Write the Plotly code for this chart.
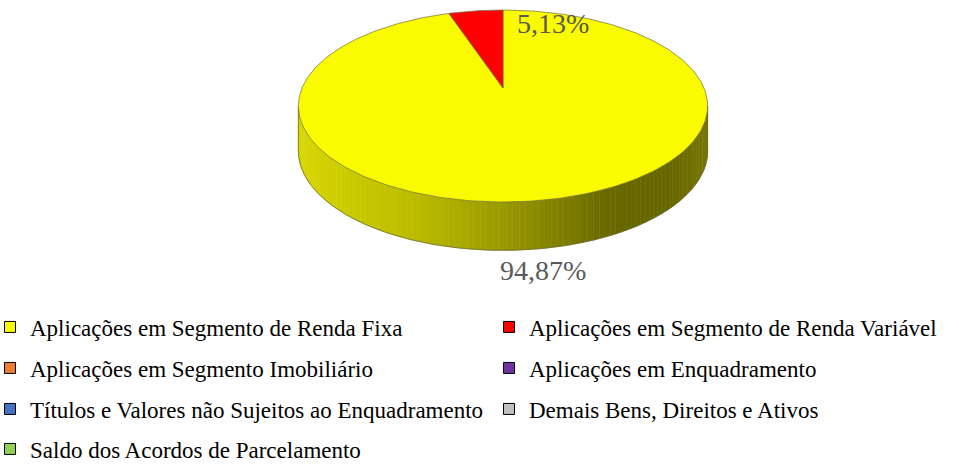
import math
import plotly.graph_objects as go

# ---------------- data ----------------
categories = [
    "Aplicações em Segmento de Renda Fixa",
    "Aplicações em Segmento de Renda Variável",
    "Aplicações em Segmento Imobiliário",
    "Aplicações em Enquadramento",
    "Títulos e Valores não Sujeitos ao Enquadramento",
    "Demais Bens, Direitos e Ativos",
    "Saldo dos Acordos de Parcelamento",
]
values = [94.87, 5.13, 0, 0, 0, 0, 0]
colors = ["#FAFA00", "#FF0000", "#ED7D31", "#7030A0", "#4472C4", "#BFBFBF", "#92D050"]

# ---------------- geometry / style ----------------
W, H = 959, 464
CX, CY = 503.0, 88.0      # pie apex (screen px)
RX, RY = 201.0, 92.6      # disk radii
P = 0.1876                # perspective factor
H0 = 44.0                 # side thickness
EDGE = "#6E6E3A"
LABEL_COLOR = "#595959"
FONT = "Liberation Serif, Times New Roman, serif"

label_pos = {0: (543, 270), 1: (553, 23)}
legend_rows = [327, 368, 409, 449]
legend_cols = [30, 529]


def proj(theta_deg, r=1.0):
    t = math.radians(theta_deg)
    u = math.sin(t) * r
    v = math.cos(t) * r
    k = 1.0 / (1.0 + P * v)
    return CX + RX * u * k, CY - RY * v * k, v, k


def thick(v, k):
    return H0 * k ** 0.45


def hex_to_rgb(h):
    h = h.lstrip("#")
    return tuple(int(h[i:i + 2], 16) for i in (0, 2, 4))


shade_stops = [(0.0, 0.86), (0.3, 0.74), (0.55, 0.58), (0.75, 0.42), (0.9, 0.41), (1.0, 0.47)]


def shade(frac):
    frac = min(max(frac, 0.0), 1.0)
    for (a, sa), (b, sb) in zip(shade_stops[:-1], shade_stops[1:]):
        if a <= frac <= b:
            return sa + (sb - sa) * (frac - a) / (b - a)
    return shade_stops[-1][1]


fig = go.Figure()

total = sum(values)
starts, ends = [], []
acc = 0.0
for v in values:
    starts.append(acc / total * 360.0)
    acc += v
    ends.append(acc / total * 360.0)

# visible side range
th_a = math.degrees(math.acos(-P))
th_b = 360.0 - th_a
xmin = proj(th_b)[0]
xmax = proj(th_a)[0]

# ---- side strips ----
for i, v in enumerate(values):
    if v <= 0:
        continue
    a = max(starts[i], th_a)
    b = min(ends[i], th_b)
    if b <= a:
        continue
    n = max(2, int((b - a) / 1.5))
    base = hex_to_rgb(colors[i])
    for j in range(n):
        t0 = a + (b - a) * j / n
        t1 = a + (b - a) * (j + 1) / n
        x0, y0, v0, k0 = proj(t0)
        x1, y1, v1, k1 = proj(t1)
        xs = [x0, x1, x1, x0, x0]
        ys = [y0, y1, y1 + thick(v1, k1), y0 + thick(v0, k0), y0]
        s = shade(((x0 + x1) / 2 - xmin) / (xmax - xmin))
        c = "rgb(%d,%d,%d)" % tuple(int(round(ch * s)) for ch in base)
        fig.add_trace(go.Scatter(x=xs, y=ys, mode="lines", fill="toself",
                                 fillcolor=c, line=dict(color=c, width=0.6),
                                 hoverinfo="skip", showlegend=False))

# side outline (bottom rim + vertical edges)
bx, by = [], []
xa, ya, va, ka = proj(th_a)
bx.append(xa); by.append(ya)
steps = 200
for j in range(steps + 1):
    t = th_a + (th_b - th_a) * j / steps
    x, y, vv, kk = proj(t)
    bx.append(x); by.append(y + thick(vv, kk))
xb, yb, vb, kb = proj(th_b)
bx.append(xb); by.append(yb)
fig.add_trace(go.Scatter(x=bx, y=by, mode="lines", line=dict(color=EDGE, width=0.8),
                         hoverinfo="skip", showlegend=False))

# ---- top face slices ----
for i, v in enumerate(values):
    if v <= 0:
        continue
    n = max(4, int((ends[i] - starts[i]) / 1.0))
    xs, ys = [CX], [CY]
    for j in range(n + 1):
        t = starts[i] + (ends[i] - starts[i]) * j / n
        x, y, _, _ = proj(t)
        xs.append(x); ys.append(y)
    xs.append(CX); ys.append(CY)
    fig.add_trace(go.Scatter(x=xs, y=ys, mode="lines", fill="toself",
                             fillcolor=colors[i], line=dict(color=EDGE, width=0.7),
                             hoverinfo="skip", showlegend=False))

# ---- data labels ----
for i, v in enumerate(values):
    if v <= 0:
        continue
    txt = ("%.2f" % (v / total * 100)).replace(".", ",") + "%"
    lx, ly = label_pos[i]
    fig.add_annotation(x=lx, y=ly, xref="x", yref="y", text=txt, showarrow=False,
                       font=dict(family=FONT, size=28, color=LABEL_COLOR))

# ---- legend entries (one legend per entry for precise layout) ----
layout_legends = {}
for i, name in enumerate(categories):
    key = "legend" if i == 0 else "legend%d" % (i + 1)
    row, col = divmod(i, 2)
    fig.add_trace(go.Scatter(x=[None], y=[None], mode="markers", name=name,
                             marker=dict(symbol="square", size=11, color=colors[i],
                                         line=dict(color="black", width=1)),
                             legend=key, showlegend=True, hoverinfo="skip"))
    layout_legends[key] = dict(
        x=(legend_cols[col] - 40) / W, xanchor="left",
        y=1 - legend_rows[row] / H, yanchor="middle",
        orientation="v", bgcolor="rgba(0,0,0,0)", borderwidth=0,
        font=dict(family=FONT, size=23, color="black"),
        itemsizing="trace",
    )

fig.update_layout(
    width=W, height=H,
    margin=dict(l=0, r=0, t=0, b=0, autoexpand=False),
    paper_bgcolor="white", plot_bgcolor="white",
    xaxis=dict(range=[0, W], visible=False, fixedrange=True),
    yaxis=dict(range=[H, 0], visible=False, fixedrange=True),
    showlegend=True,
    **layout_legends,
)

fig.write_html("out.html", config={"displayModeBar": False},
               post_script="document.body.style.margin='0px';document.body.style.overflow='hidden';")
